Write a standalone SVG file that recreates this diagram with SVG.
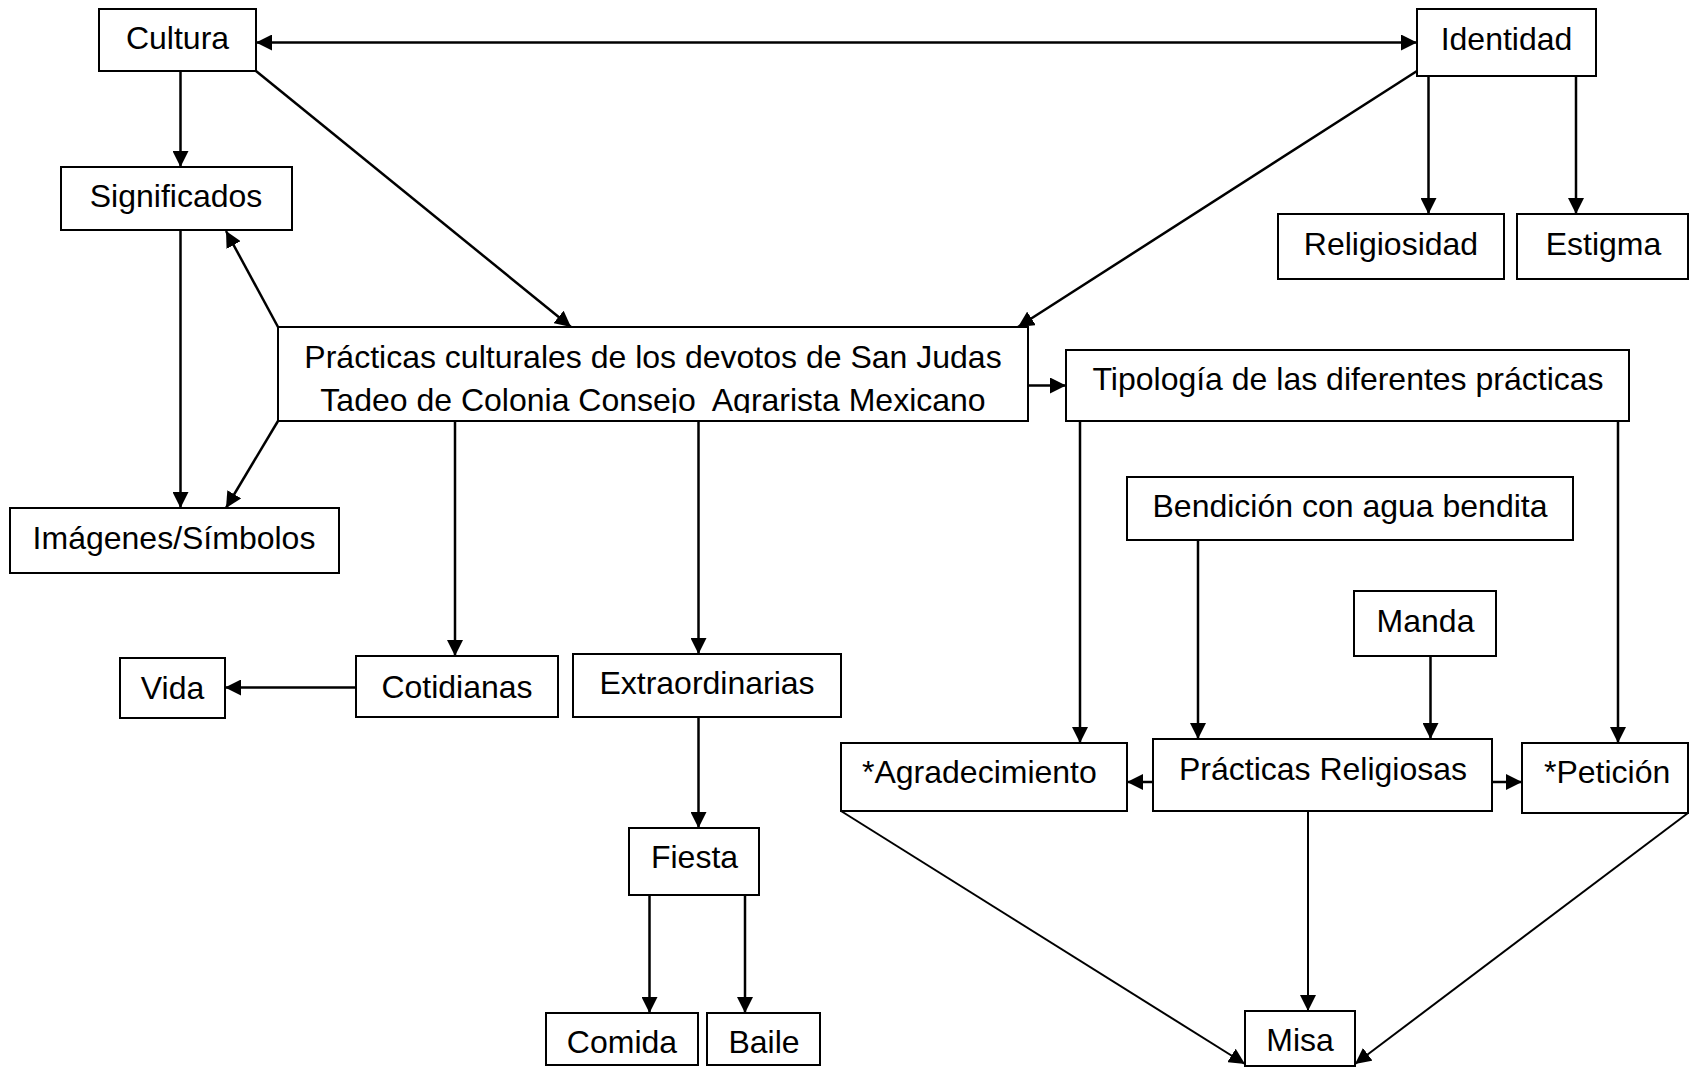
<svg xmlns="http://www.w3.org/2000/svg" width="1690" height="1073" viewBox="0 0 1690 1073">
<style>
.box{fill:#fff;stroke:#000;stroke-width:2}
.t{font-family:"Liberation Sans",Arial,sans-serif;font-size:32px;fill:#000}
.c{text-anchor:middle}
.ln{stroke:#000;stroke-width:2.5;fill:none;marker-end:url(#ah)}
.thin{stroke-width:2}
</style>
<defs>
<marker id="ah" markerUnits="userSpaceOnUse" markerWidth="16" markerHeight="16" viewBox="0 0 15 15" refX="15" refY="7.5" orient="auto-start-reverse">
<path d="M0,0 L15,7.5 L0,15 z" fill="#000"/>
</marker>
<clipPath id="clipP"><rect x="278" y="327" width="750" height="86"/></clipPath>
</defs>
<rect width="1690" height="1073" fill="#fff"/>
<g id="connectors">
<line class="ln" x1="256" y1="42.5" x2="1417" y2="42.5" marker-start="url(#ah)"/>
<line class="ln" x1="180.5" y1="71" x2="180.5" y2="167"/>
<line class="ln" x1="256" y1="71" x2="571" y2="327"/>
<line class="ln" x1="1417" y1="71" x2="1018" y2="327"/>
<line class="ln" x1="1428.5" y1="76" x2="1428.5" y2="214"/>
<line class="ln" x1="1576" y1="76" x2="1576" y2="214"/>
<line class="ln" x1="278" y1="327" x2="226" y2="231"/>
<line class="ln" x1="180.5" y1="230" x2="180.5" y2="508"/>
<line class="ln" x1="278" y1="421" x2="226" y2="508"/>
<line class="ln" x1="1028" y1="385.5" x2="1066" y2="385.5"/>
<line class="ln" x1="455" y1="421" x2="455" y2="656"/>
<line class="ln" x1="698.5" y1="421" x2="698.5" y2="654"/>
<line class="ln" x1="356" y1="687.5" x2="225" y2="687.5"/>
<line class="ln" x1="698.5" y1="717" x2="698.5" y2="828"/>
<line class="ln" x1="649.5" y1="895" x2="649.5" y2="1013"/>
<line class="ln" x1="745" y1="895" x2="745" y2="1013"/>
<line class="ln" x1="1080" y1="421" x2="1080" y2="743"/>
<line class="ln" x1="1618" y1="421" x2="1618" y2="743"/>
<line class="ln" x1="1198" y1="540" x2="1198" y2="739"/>
<line class="ln" x1="1430.5" y1="656" x2="1430.5" y2="739"/>
<line class="ln" x1="1153" y1="782" x2="1127" y2="782"/>
<line class="ln" x1="1492" y1="782" x2="1522" y2="782"/>
<line class="ln thin" x1="1308" y1="811" x2="1308" y2="1011"/>
<line class="ln thin" x1="841" y1="811" x2="1245" y2="1064"/>
<line class="ln thin" x1="1688" y1="813" x2="1355" y2="1064"/>
</g>
<g id="cultura"><rect class="box" x="99" y="9" width="157" height="62"/><text class="t c" x="177.5" y="49">Cultura</text></g>
<g id="identidad"><rect class="box" x="1417" y="9" width="179" height="67"/><text class="t c" x="1506.5" y="50">Identidad</text></g>
<g id="significados"><rect class="box" x="61" y="167" width="231" height="63"/><text class="t c" x="176" y="206.5">Significados</text></g>
<g id="religiosidad"><rect class="box" x="1278" y="214" width="226" height="65"/><text class="t c" x="1391" y="255">Religiosidad</text></g>
<g id="estigma"><rect class="box" x="1517" y="214" width="171" height="65"/><text class="t c" x="1603.5" y="255">Estigma</text></g>
<g id="practicas"><rect class="box" x="278" y="327" width="750" height="94"/><g clip-path="url(#clipP)"><text class="t c" x="653" y="367.5">Prácticas culturales de los devotos de San Judas</text><text class="t c" x="653" y="410.5" xml:space="preserve">Tadeo de Colonia Consejo  Agrarista Mexicano</text></g></g>
<g id="tipologia"><rect class="box" x="1066" y="350" width="563" height="71"/><text class="t c" x="1348" y="390">Tipología de las diferentes prácticas</text></g>
<g id="imagenes"><rect class="box" x="10" y="508" width="329" height="65"/><text class="t c" x="174" y="548.5">Imágenes/Símbolos</text></g>
<g id="bendicion"><rect class="box" x="1127" y="477" width="446" height="63"/><text class="t c" x="1350" y="516.5">Bendición con agua bendita</text></g>
<g id="manda"><rect class="box" x="1354" y="591" width="142" height="65"/><text class="t c" x="1425.5" y="631.5">Manda</text></g>
<g id="vida"><rect class="box" x="120" y="658" width="105" height="60"/><text class="t c" x="172.5" y="698.5">Vida</text></g>
<g id="cotidianas"><rect class="box" x="356" y="656" width="202" height="61"/><text class="t c" x="457" y="698">Cotidianas</text></g>
<g id="extraordinarias"><rect class="box" x="573" y="654" width="268" height="63"/><text class="t c" x="707" y="694">Extraordinarias</text></g>
<g id="agradecimiento"><rect class="box" x="841" y="743" width="286" height="68"/><text class="t" x="862" y="783">*Agradecimiento</text></g>
<g id="practicas-religiosas"><rect class="box" x="1153" y="739" width="339" height="72"/><text class="t c" x="1323" y="780">Prácticas Religiosas</text></g>
<g id="peticion"><rect class="box" x="1522" y="743" width="166" height="70"/><text class="t" x="1544" y="783">*Petición</text></g>
<g id="fiesta"><rect class="box" x="629" y="828" width="130" height="67"/><text class="t c" x="694.5" y="868">Fiesta</text></g>
<g id="comida"><rect class="box" x="546" y="1013" width="152" height="52"/><text class="t c" x="622" y="1053">Comida</text></g>
<g id="baile"><rect class="box" x="707" y="1013" width="113" height="52"/><text class="t c" x="764" y="1053">Baile</text></g>
<g id="misa"><rect class="box" x="1245" y="1011" width="110" height="55"/><text class="t c" x="1300" y="1051">Misa</text></g>
</svg>
